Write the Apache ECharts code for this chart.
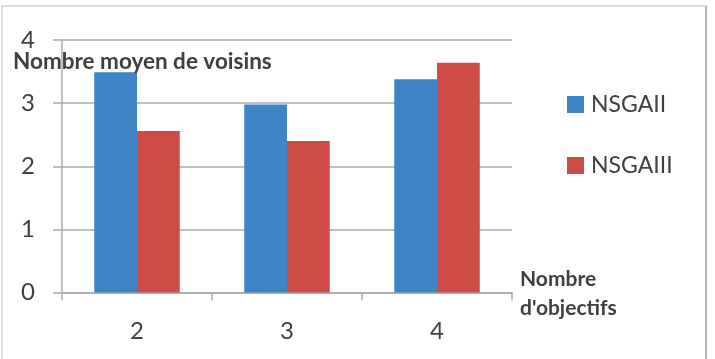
<!DOCTYPE html>
<html>
<head>
<meta charset="utf-8">
<script src="https://cdn.jsdelivr.net/npm/echarts@6/dist/echarts.min.js"></script>
<style>
html,body{margin:0;padding:0;background:#fff;}
#chart{width:715px;height:359px;}
</style>
</head>
<body>
<div id="chart"></div>
<script>
const categories = ['2', '3', '4'];
const seriesNames = ['NSGAII', 'NSGAIII'];
const nsgaii = [3.49, 2.98, 3.38];
const nsgaiii = [2.56, 2.40, 3.64];
const yTicks = [0, 1, 2, 3, 4];
const yAxisTitle = 'Nombre moyen de voisins';
const xAxisTitle = "Nombre\nd'objectifs";

const FONT = 'Lato';
const TXT = '#3f3f3f';
const GRIDC = '#ababab';

const chart = echarts.init(document.getElementById('chart'), null, {renderer: 'canvas'});
chart.setOption({
  animation: false,
  backgroundColor: '#ffffff',
  textStyle: {fontFamily: FONT},
  grid: {left: 62, right: 203, top: 40, bottom: 66.5, containLabel: false},
  legend: {
    orient: 'vertical',
    left: 562, top: 88,
    itemWidth: 17, itemHeight: 17, itemGap: 38,
    icon: 'rect',
    data: seriesNames,
    textStyle: {fontSize: 23, color: TXT, fontFamily: FONT, padding: [0, 0, 0, 2]}
  },
  xAxis: {
    type: 'category',
    data: categories,
    boundaryGap: true,
    axisLine: {show: true, lineStyle: {color: GRIDC, width: 1.5}},
    axisTick: {show: true, length: 8, alignWithLabel: false, lineStyle: {color: GRIDC, width: 1.5}},
    axisLabel: {fontSize: 24, color: TXT, margin: 27, fontFamily: FONT}
  },
  yAxis: {
    type: 'value',
    min: yTicks[0], max: yTicks[yTicks.length - 1], interval: 1,
    axisLine: {show: true, lineStyle: {color: GRIDC, width: 1.5}},
    axisTick: {show: true, length: 9, inside: false, lineStyle: {color: GRIDC, width: 1.5}},
    splitLine: {show: true, lineStyle: {color: GRIDC, width: 1.5}},
    axisLabel: {fontSize: 24, color: TXT, margin: 27, fontFamily: FONT}
  },
  series: [
    {name: seriesNames[0], type: 'bar', data: nsgaii, itemStyle: {color: '#3f84c6'}, barGap: '0%', barCategoryGap: '43%'},
    {name: seriesNames[1], type: 'bar', data: nsgaiii, itemStyle: {color: '#ce4b47'}, barGap: '0%', barCategoryGap: '43%'}
  ],
  graphic: [
    {type: 'rect', shape: {x: 2, y: 6, width: 704, height: 400}, style: {fill: 'none', stroke: '#cfcfcf', lineWidth: 1.5}, silent: true, z: -1},
    {type: 'line', shape: {x1: 706, y1: 6, x2: 706, y2: 359}, style: {stroke: '#b3b3b3', lineWidth: 2}, silent: true},
    {type: 'text', left: 13, top: 50, style: {text: yAxisTitle, font: 'bold 22.5px ' + FONT, fill: TXT}, z: 10},
    {type: 'text', left: 520, top: 265, style: {text: xAxisTitle, font: 'bold 21px ' + FONT, fill: TXT, lineHeight: 29}, z: 10}
  ]
});
</script>
</body>
</html>
